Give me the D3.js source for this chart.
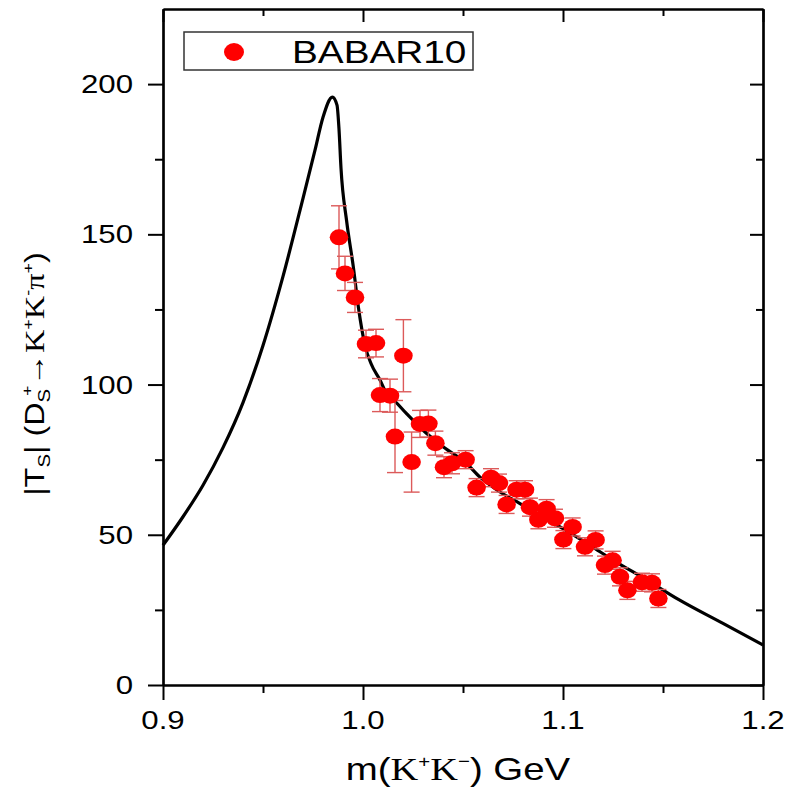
<!DOCTYPE html>
<html>
<head>
<meta charset="utf-8">
<script src="https://cdn.jsdelivr.net/npm/d3@7"></script>
<style>
  body { margin:0; background:#fff; }
  text { font-family: "Liberation Sans", Arial, sans-serif; fill:#000; }
  .serif { font-family: "Liberation Serif", "Times New Roman", serif; }
</style>
</head>
<body>
<svg id="chart" width="786" height="790"></svg>
<script>
// data points (BABAR10)
var dataX = [0.988, 0.991, 0.996, 1.0015, 1.0065, 1.0085, 1.0135, 1.016, 1.0202, 1.0243,
             1.0285, 1.0327, 1.0362, 1.0405, 1.0445, 1.0513, 1.0568, 1.064, 1.068, 1.0718,
             1.0768, 1.081, 1.0835, 1.0877, 1.0918, 1.096, 1.1002, 1.1048, 1.111, 1.1163,
             1.121, 1.1248, 1.1285, 1.1322, 1.1395, 1.1445, 1.1477];
var dataY = [149, 137, 129, 113.5, 113.8, 96.5, 96.3, 82.7, 109.6, 74.2,
             86.9, 87, 80.5, 72.5, 73.8, 75, 65.7, 69, 67.2, 60.1,
             65, 65, 59.2, 55, 58.7, 55.5, 48.4, 52.6, 46, 48.3,
             39.9, 41.5, 36, 31.5, 34.2, 34, 28.8];
var dataErr = [10.5, 5.7, 5, 4.6, 4.6, 5.5, 5.5, 12, 12, 10,
               4.5, 4.5, 4, 3.5, 3.5, 3, 3, 3, 3, 3,
               3, 3, 3, 3, 3, 3, 3, 3, 3, 3,
               3, 3, 3, 3, 3, 3, 3];

// model curve
var curveX = [0.900, 0.910, 0.920, 0.930, 0.940, 0.950, 0.960, 0.970, 0.976, 0.980,
              0.9847, 0.9870, 0.9880, 0.9890, 0.9918, 0.9952, 0.9977, 1.0010, 1.0040, 1.0085,
              1.0118, 1.0152, 1.0218, 1.0302, 1.0402, 1.0518, 1.0585, 1.0668, 1.0785, 1.0985,
              1.1135, 1.1252, 1.1418, 1.1577, 1.1800, 1.2000];
var curveY = [46.5, 56, 66.5, 79, 94, 113, 136, 162, 178, 189,
              195.7, 193, 185, 172, 154.5, 139, 125.7, 113, 107, 101.5,
              97, 95, 90.3, 84.7, 79.2, 73.7, 69.2, 65, 60.4, 52.6,
              46.5, 41.5, 35, 28.5, 20.5, 13.3];

var xTicks = [0.9, 1.0, 1.1, 1.2];
var xTickLabels = ["0.9", "1.0", "1.1", "1.2"];
var xMinor = [0.95, 1.05, 1.15];
var yTicks = [0, 50, 100, 150, 200];
var yMinor = [25, 75, 125, 175];

var svg = d3.select("#chart");
var pLeft = 163, pRight = 763, pTop = 9, pBottom = 685;

var x = d3.scaleLinear().domain([0.9, 1.2]).range([pLeft, pRight]);
var y = d3.scaleLinear().domain([0, 225]).range([pBottom, pTop]);

var sx = 1.2; // horizontal stretch of the original lettering

// axes: ticks outward on bottom/left, inward on top/right
function drawAxis(axis, tr) {
  var g = svg.append("g").attr("transform", tr).call(axis);
  g.selectAll("text").remove();
  g.select(".domain").attr("stroke", "#000").attr("stroke-width", 2.2);
  g.selectAll(".tick line").attr("stroke", "#000").attr("stroke-width", 2);
  return g;
}
drawAxis(d3.axisBottom(x).tickValues(xTicks).tickSize(15).tickSizeOuter(0), "translate(0," + pBottom + ")");
drawAxis(d3.axisBottom(x).tickValues(xMinor).tickSize(8).tickSizeOuter(0), "translate(0," + pBottom + ")");
drawAxis(d3.axisTop(x).tickValues(xTicks).tickSize(-13).tickSizeOuter(0), "translate(0," + pTop + ")");
drawAxis(d3.axisTop(x).tickValues(xMinor).tickSize(-7).tickSizeOuter(0), "translate(0," + pTop + ")");
drawAxis(d3.axisLeft(y).tickValues(yTicks).tickSize(15).tickSizeOuter(0), "translate(" + pLeft + ",0)");
drawAxis(d3.axisLeft(y).tickValues(yMinor).tickSize(8).tickSizeOuter(0), "translate(" + pLeft + ",0)");
drawAxis(d3.axisRight(y).tickValues(yTicks).tickSize(-13).tickSizeOuter(0), "translate(" + pRight + ",0)");
drawAxis(d3.axisRight(y).tickValues(yMinor).tickSize(-7).tickSizeOuter(0), "translate(" + pRight + ",0)");

// tick labels
svg.selectAll(".xlab").data(xTicks).enter().append("text")
  .attr("transform", function(d) { return "translate(" + x(d) + ",729) scale(" + sx + ",1)"; })
  .attr("text-anchor", "middle")
  .style("font-size", "26px")
  .text(function(d, i) { return xTickLabels[i]; });

svg.selectAll(".ylab").data(yTicks).enter().append("text")
  .attr("transform", function(d) { return "translate(133," + (y(d) + 9) + ") scale(" + sx + ",1)"; })
  .attr("text-anchor", "end")
  .style("font-size", "26px")
  .text(function(d) { return d; });

// model curve
var line = d3.line()
  .x(function(d, i) { return x(curveX[i]); })
  .y(function(d, i) { return y(curveY[i]); })
  .curve(d3.curveMonotoneX);

svg.append("path")
  .datum(curveX)
  .attr("d", line)
  .attr("fill", "none")
  .attr("stroke", "#000")
  .attr("stroke-width", 3.2);

// error bars
var eb = svg.append("g").attr("stroke", "#dc5a5a").attr("stroke-width", 1.4);
dataX.forEach(function(v, i) {
  var cx = x(v), t = y(dataY[i] + dataErr[i]), b = y(dataY[i] - dataErr[i]);
  eb.append("line").attr("x1", cx).attr("x2", cx).attr("y1", t).attr("y2", b);
  eb.append("line").attr("x1", cx - 8).attr("x2", cx + 8).attr("y1", t).attr("y2", t);
  eb.append("line").attr("x1", cx - 8).attr("x2", cx + 8).attr("y1", b).attr("y2", b);
});

// points
svg.append("g").selectAll("ellipse").data(dataX).enter().append("ellipse")
  .attr("cx", function(d) { return x(d); })
  .attr("cy", function(d, i) { return y(dataY[i]); })
  .attr("rx", 9.3)
  .attr("ry", 8)
  .attr("fill", "#f00");

// legend
svg.append("rect")
  .attr("x", 184).attr("y", 32).attr("width", 289).attr("height", 38)
  .attr("fill", "#fff").attr("stroke", "#333").attr("stroke-width", 1.5);
svg.append("ellipse").attr("cx", 234).attr("cy", 52).attr("rx", 10).attr("ry", 9).attr("fill", "#f00");
svg.append("text")
  .attr("transform", "translate(292,63) scale(1.25,1)")
  .style("font-size", "31px")
  .text("BABAR10");

// x axis title
var xt = svg.append("text")
  .attr("transform", "translate(458,780) scale(" + sx + ",1)")
  .attr("text-anchor", "middle")
  .style("font-size", "32px");
xt.append("tspan").text("m(");
xt.append("tspan").attr("class", "serif").text("K");
xt.append("tspan").attr("dy", -13).style("font-size", "17px").text("+");
xt.append("tspan").attr("dy", 13).attr("class", "serif").text("K");
xt.append("tspan").attr("dy", -13).style("font-size", "17px").text("\u2212");
xt.append("tspan").attr("dy", 13).text(") GeV");

// y axis title
var yt = svg.append("text")
  .attr("transform", "translate(44,374) rotate(-90) scale(" + sx + ",1)")
  .attr("text-anchor", "middle")
  .style("font-size", "27px");
yt.append("tspan").text("|T");
yt.append("tspan").attr("dy", 6).style("font-size", "17px").text("S");
yt.append("tspan").attr("dy", -6).text("|  (D");
yt.append("tspan").attr("dy", 6).style("font-size", "17px").text("S");
yt.append("tspan").attr("dy", -18).attr("dx", -6).style("font-size", "15px").text("+");
yt.append("tspan").attr("dy", 12).text("\u2192");
yt.append("tspan").attr("class", "serif").text("K");
yt.append("tspan").attr("dy", -11).style("font-size", "15px").text("+");
yt.append("tspan").attr("dy", 11).attr("class", "serif").text("K");
yt.append("tspan").attr("dy", -11).style("font-size", "15px").text("-");
yt.append("tspan").attr("dy", 11).attr("class", "serif").text("\u03c0");
yt.append("tspan").attr("dy", -11).style("font-size", "15px").text("+");
yt.append("tspan").attr("dy", 11).text(")");
</script>
</body>
</html>
